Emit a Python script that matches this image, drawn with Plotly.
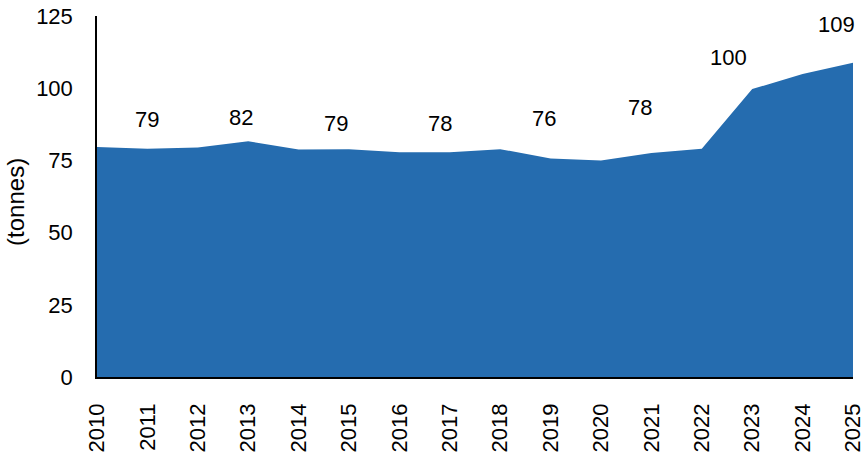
import plotly.graph_objects as go

years = list(range(2010, 2026))
values = [79.6, 79.0, 79.5, 81.6, 78.8, 78.9, 77.8, 77.8, 78.9, 75.7, 75.0, 77.6, 79.0, 99.7, 104.9, 108.8]
label_years = [2011, 2013, 2015, 2017, 2019, 2021, 2023, 2025]
y_ticks = [0, 25, 50, 75, 100, 125]
y_title = "(tonnes)"

# label placement offsets (px)
label_xshift = [0, -7, -13, -10, -7, -11, -24, -17]
label_yshift = [29, 24, 26, 29, 40, 45, 32, 38]

FILL = "#256CAF"
FONT = "Liberation Sans, Arial, sans-serif"
FS = 22

fig = go.Figure()
fig.add_trace(go.Scatter(
    x=years, y=values, mode="lines", fill="tozeroy",
    line=dict(color=FILL, width=0), fillcolor=FILL, hoverinfo="skip",
))

for yr, dx, dy in zip(label_years, label_xshift, label_yshift):
    v = values[years.index(yr)]
    fig.add_annotation(
        x=yr, y=v, text=str(round(v)), showarrow=False,
        xanchor="center", yanchor="middle", xshift=dx, yshift=dy,
        font=dict(family=FONT, size=FS, color="black"),
    )

fig.add_annotation(
    xref="paper", yref="paper", x=-97/756 + 16/756, y=0.485,
    text=y_title, textangle=-90, showarrow=False,
    xanchor="center", yanchor="middle",
    font=dict(family=FONT, size=24, color="black"),
)

fig.update_layout(
    width=863, height=453,
    margin=dict(l=97, r=10, t=16, b=76, autoexpand=False),
    plot_bgcolor="white", paper_bgcolor="white",
    showlegend=False,
    font=dict(family=FONT, size=FS, color="black"),
)
fig.update_xaxes(
    range=[2010, 2025], tickmode="array", tickvals=years,
    ticktext=[str(y) for y in years], tickangle=-90,
    showline=True, linecolor="black", linewidth=1.5,
    showgrid=False, zeroline=False, ticks="", ticklabelstandoff=16,
    ticklabeloverflow="allow", automargin=False,
    tickfont=dict(family=FONT, size=FS, color="black"),
)
fig.update_yaxes(
    range=[0, 125], tickmode="array", tickvals=y_ticks,
    showline=True, linecolor="black", linewidth=1.5,
    showgrid=False, zeroline=False, ticks="", ticklabelstandoff=18,
    ticklabeloverflow="allow", automargin=False,
    tickfont=dict(family=FONT, size=FS, color="black"),
)

fig.write_html(
    "out.html",
    config={"displayModeBar": False},
    post_script="document.body.style.margin='0';document.body.style.overflow='hidden';",
)
